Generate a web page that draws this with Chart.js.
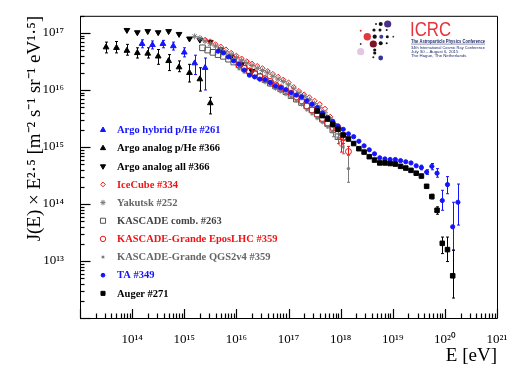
<!DOCTYPE html>
<html>
<head>
<meta charset="utf-8">
<script src="https://cdn.jsdelivr.net/npm/chart.js@4.4.1/dist/chart.umd.min.js"></script>
<style>
  html, body { margin: 0; padding: 0; background: #fff; }
</style>
</head>
<body>
<canvas id="spectrum" width="520" height="370"></canvas>
<script>
// all values are log10 of E [eV] and of J(E)*E^2.5

// ARGO-YBJ hybrid p+He (#261)
const argoHybLogE = [14.19, 14.39, 14.59, 14.79, 15.0, 15.2, 15.4];
const argoHybLogJ = [16.81, 16.79, 16.81, 16.77, 16.66, 16.47, 16.39];
const argoHybLo   = [16.74, 16.72, 16.74, 16.70, 16.58, 16.27, 16.0];
const argoHybHi   = [16.88, 16.86, 16.87, 16.84, 16.74, 16.61, 16.56];

// ARGO-YBJ analog p+He (#366)
const argoPheLogE = [13.5, 13.7, 13.9, 14.1, 14.3, 14.5, 14.7, 14.9, 15.1, 15.3, 15.5];
const argoPheLogJ = [16.75, 16.74, 16.69, 16.65, 16.64, 16.59, 16.51, 16.40, 16.30, 16.19, 15.77];
const argoPheLo   = [16.65, 16.65, 16.61, 16.56, 16.56, 16.45, 16.34, 16.32, 16.14, 15.98, 15.58];
const argoPheHi   = [16.84, 16.85, 16.80, 16.74, 16.74, 16.71, 16.62, 16.51, 16.45, 16.39, 15.87];

// ARGO-YBJ analog all particle (#366)
const argoAllLogE = [13.9, 14.1, 14.3, 14.5, 14.7, 14.9, 15.1, 15.3, 15.5, 15.7, 15.9, 16.1, 16.3];
const argoAllLogJ = [17.05, 17.01, 17.03, 17.01, 17.03, 16.98, 16.90, 16.88, 16.84, 16.71, 16.59, 16.45, 16.33];

// IceCube / IceTop (#334)
const iceLogE = [15.4, 15.5, 15.6, 15.7, 15.8, 15.9, 16.0, 16.1, 16.2, 16.3, 16.4, 16.5, 16.6, 16.7,
                 16.8, 16.9, 17.0, 17.1, 17.2, 17.3, 17.4, 17.5, 17.6, 17.7, 17.8, 17.9, 18.0];
const iceLogJ = [16.88, 16.85, 16.80, 16.76, 16.71, 16.65, 16.60, 16.55, 16.50, 16.46, 16.42, 16.38, 16.33, 16.28,
                 16.23, 16.18, 16.13, 16.05, 15.98, 15.92, 15.87, 15.81, 15.75, 15.67, 15.53, 15.35, 15.06];
const iceBarE  = [17.9, 18.0];
const iceBarLo = [15.29, 14.91];
const iceBarHi = [15.41, 15.14];

// Yakutsk (#252)
const yakLogE = [15.2, 15.3, 15.4, 15.5, 15.6, 15.7, 15.8, 15.9, 16.0, 16.1, 16.2, 16.3, 16.4, 16.5, 16.6,
                 16.7, 16.8, 16.9, 17.0, 17.1, 17.2, 17.3, 17.4, 17.5, 17.6, 17.7, 17.8, 17.9, 18.0];
const yakLogJ = [16.94, 16.91, 16.86, 16.81, 16.77, 16.72, 16.67, 16.62, 16.57, 16.52, 16.47, 16.43, 16.38, 16.34, 16.30,
                 16.24, 16.19, 16.15, 16.09, 16.02, 15.95, 15.89, 15.83, 15.76, 15.69, 15.60, 15.49, 15.35, 15.22];

// KASCADE combined (#263)
const kasLogE = [15.35, 15.45, 15.55, 15.65, 15.75, 15.85, 15.95, 16.05, 16.15, 16.25, 16.35, 16.45, 16.55, 16.65,
                 16.75, 16.85, 16.95, 17.05, 17.15, 17.25, 17.35, 17.45, 17.55, 17.65, 17.75, 17.85, 17.95];
const kasLogJ = [16.74, 16.70, 16.66, 16.62, 16.59, 16.54, 16.49, 16.44, 16.38, 16.33, 16.28, 16.23, 16.18, 16.12,
                 16.07, 16.02, 15.97, 15.90, 15.84, 15.78, 15.72, 15.65, 15.58, 15.49, 15.41, 15.30, 15.18];

// KASCADE-Grande, EPOS-LHC (#359)
const kgEposLogE = [16.05, 16.15, 16.25, 16.35, 16.45, 16.55, 16.65, 16.75, 16.85, 16.95, 17.05,
                    17.15, 17.25, 17.35, 17.45, 17.55, 17.65, 17.75, 17.85, 17.95, 18.05, 18.15];
const kgEposLogJ = [16.44, 16.38, 16.33, 16.29, 16.24, 16.20, 16.15, 16.09, 16.04, 15.99, 15.94,
                    15.88, 15.81, 15.72, 15.65, 15.57, 15.50, 15.42, 15.34, 15.34, 15.16, 14.92];
const kgEposBarE  = [17.95, 18.05, 18.15];
const kgEposBarLo = [15.16, 15.06, 14.86];
const kgEposBarHi = [15.37, 15.25, 15.01];

// KASCADE-Grande, QGSJet-II-04 (#359)
const kgQgsLogE = [16.05, 16.15, 16.25, 16.35, 16.45, 16.55, 16.65, 16.75, 16.85, 16.95, 17.05,
                   17.15, 17.25, 17.35, 17.45, 17.55, 17.65, 17.75, 17.85, 17.95, 18.05, 18.15];
const kgQgsLogJ = [16.37, 16.31, 16.26, 16.22, 16.18, 16.13, 16.08, 16.02, 15.97, 15.92, 15.87,
                   15.81, 15.74, 15.65, 15.58, 15.50, 15.43, 15.35, 15.27, 15.16, 15.00, 14.62];
const kgQgsBarE  = [17.85, 17.95, 18.05, 18.15];
const kgQgsBarLo = [15.18, 15.06, 14.88, 14.38];
const kgQgsBarHi = [15.35, 15.27, 15.13, 14.85];

// Telescope Array (#349)
const taLogE = [15.65, 15.75, 15.85, 15.95, 16.05, 16.15, 16.25, 16.35, 16.45, 16.55, 16.65, 16.75, 16.85, 16.95,
                17.05, 17.15, 17.25, 17.35, 17.45, 17.55, 17.65, 17.75, 17.85, 17.95, 18.05, 18.15, 18.25,
                18.35, 18.45, 18.55, 18.65, 18.75, 18.85, 18.95, 19.05, 19.15, 19.25, 19.35, 19.45, 19.55,
                19.65, 19.75, 19.85, 19.95, 20.05, 20.15, 20.25];
const taLogJ = [16.68, 16.65, 16.58, 16.51, 16.45, 16.35, 16.26, 16.23, 16.19, 16.18, 16.13, 16.07, 16.04, 16.00,
                15.95, 15.91, 15.88, 15.81, 15.75, 15.69, 15.60, 15.52, 15.45, 15.37, 15.31, 15.23, 15.18,
                15.10, 15.02, 14.95, 14.88, 14.81, 14.79, 14.78, 14.78, 14.76, 14.74, 14.72, 14.67, 14.64,
                14.56, 14.66, 14.54, 14.06, 14.34, 13.60, 14.03];
const taBarE  = [19.55, 19.65, 19.75, 19.85, 19.95, 20.05, 20.15, 20.25];
const taBarLo = [14.60, 14.52, 14.60, 14.47, 13.89, 14.18, 13.19, 13.63];
const taBarHi = [14.68, 14.60, 14.71, 14.62, 14.24, 14.48, 14.03, 14.35];

// Pierre Auger Observatory (#271)
const augerLogE = [17.55, 17.65, 17.75, 17.85, 17.95, 18.05, 18.15, 18.25, 18.35, 18.45, 18.55, 18.65, 18.75, 18.85,
                   18.95, 19.05, 19.15, 19.25, 19.35, 19.45, 19.55, 19.65, 19.75, 19.85, 19.95, 20.05, 20.15];
const augerLogJ = [15.63, 15.55, 15.49, 15.40, 15.31, 15.21, 15.14, 15.06, 14.97, 14.91, 14.83, 14.77, 14.72, 14.72,
                   14.71, 14.70, 14.66, 14.63, 14.59, 14.54, 14.49, 14.31, 14.13, 13.89, 13.31, 13.20, 12.74];
const augerBarE  = [19.75, 19.85, 19.95, 20.05, 20.15];
const augerBarLo = [14.09, 13.82, 13.13, 12.99, 12.35];
const augerBarHi = [14.17, 13.95, 13.42, 13.42, 13.19];

// axis decades that get a label
const xTickExp = [14, 15, 16, 17, 18, 19, 20, 21];
const yTickExp = [13, 14, 15, 16, 17];

const BLUE = '#1414ff';
const RED = '#f01414';
const GRAY = '#7a7a7a';
const DARK = '#444444';

const SUP = {'0': '⁰', '1': '¹', '2': '²', '3': '³', '4': '⁴', '5': '⁵', '6': '⁶', '7': '⁷', '8': '⁸', '9': '⁹', '-': '⁻'};
function powLabel(v) {
  const p = Math.round(Math.log10(v));
  return '10' + String(p).split('').map(c => SUP[c]).join('');
}

function toPoints(logE, logJ) {
  return logE.map((e, i) => ({x: Math.pow(10, e), y: Math.pow(10, logJ[i])}));
}
function toBars(logE, lo, hi) {
  return logE.map((e, i) => ({x: Math.pow(10, e), lo: Math.pow(10, lo[i]), hi: Math.pow(10, hi[i])}));
}

const series = [
  {label: 'Argo hybrid p/He #261', pts: toPoints(argoHybLogE, argoHybLogJ), bars: toBars(argoHybLogE, argoHybLo, argoHybHi),
   style: 'triangle', radius: 3.3, color: BLUE, text: BLUE},
  {label: 'Argo analog p/He #366', pts: toPoints(argoPheLogE, argoPheLogJ), bars: toBars(argoPheLogE, argoPheLo, argoPheHi),
   style: 'triangle', radius: 3.3, color: '#000', text: '#000'},
  {label: 'Argo analog all #366', pts: toPoints(argoAllLogE, argoAllLogJ),
   style: 'triangle', rotation: 180, radius: 3.3, color: '#000', text: '#000'},
  {label: 'IceCube #334', pts: toPoints(iceLogE, iceLogJ), bars: toBars(iceBarE, iceBarLo, iceBarHi),
   style: 'rectRot', radius: 2.6, color: RED, open: true, text: RED},
  {label: 'Yakutsk #252', pts: toPoints(yakLogE, yakLogJ),
   style: 'star', radius: 3, color: GRAY, text: '#666'},
  {label: 'KASCADE comb. #263', pts: toPoints(kasLogE, kasLogJ),
   style: 'rect', radius: 4, color: '#555', open: true, text: DARK},
  {label: 'KASCADE-Grande EposLHC #359', pts: toPoints(kgEposLogE, kgEposLogJ), bars: toBars(kgEposBarE, kgEposBarLo, kgEposBarHi),
   style: 'circle', radius: 3, color: RED, open: true, text: RED},
  {label: 'KASCADE-Grande QGS2v4 #359', pts: toPoints(kgQgsLogE, kgQgsLogJ), bars: toBars(kgQgsBarE, kgQgsBarLo, kgQgsBarHi),
   style: 'star', radius: 1.8, color: GRAY, text: '#666'},
  {label: 'TA #349', pts: toPoints(taLogE, taLogJ), bars: toBars(taBarE, taBarLo, taBarHi),
   style: 'circle', radius: 2.1, color: BLUE, text: BLUE},
  {label: 'Auger #271', pts: toPoints(augerLogE, augerLogJ), bars: toBars(augerBarE, augerBarLo, augerBarHi),
   style: 'rect', radius: 3.2, color: '#000', text: '#000'}
];

const datasets = series.map((s, i) => ({
  label: s.label,
  data: s.pts,
  bars: s.bars || null,
  textColor: s.text,
  pointStyle: s.style,
  pointRadius: s.radius,
  pointRotation: s.rotation || 0,
  pointBackgroundColor: s.open ? 'rgba(0,0,0,0)' : s.color,
  pointBorderColor: s.color,
  pointBorderWidth: 1,
  showLine: false,
  order: series.length - i
}));

// vertical error bars with small caps, drawn under the markers
const errorBars = {
  id: 'errorBars',
  beforeDatasetsDraw(chart) {
    const {ctx, scales: {x, y}} = chart;
    ctx.save();
    ctx.lineWidth = 1;
    chart.data.datasets.forEach(ds => {
      if (!ds.bars) return;
      ctx.strokeStyle = ds.pointBorderColor;
      ctx.beginPath();
      ds.bars.forEach(b => {
        const px = Math.round(x.getPixelForValue(b.x)) + 0.5;
        const y1 = y.getPixelForValue(b.lo);
        const y2 = y.getPixelForValue(b.hi);
        ctx.moveTo(px, y1); ctx.lineTo(px, y2);
        ctx.moveTo(px - 1.5, y1); ctx.lineTo(px + 1.5, y1);
        ctx.moveTo(px - 1.5, y2); ctx.lineTo(px + 1.5, y2);
      });
      ctx.stroke();
    });
    ctx.restore();
  }
};

// ROOT style frame with ticks pointing inwards
const rootFrame = {
  id: 'rootFrame',
  afterDraw(chart) {
    const ctx = chart.ctx;
    const a = chart.chartArea;
    const xs = chart.scales.x;
    const ys = chart.scales.y;
    ctx.save();
    ctx.strokeStyle = '#000';
    ctx.lineWidth = 1;
    ctx.beginPath();
    ctx.rect(a.left + 0.5, a.top + 0.5, a.right - a.left, a.bottom - a.top);
    ctx.stroke();
    ctx.lineWidth = 1.2;
    for (let p = 13; p <= 21; p++) {
      for (let m = 1; m <= 9; m++) {
        const px = Math.round(xs.getPixelForValue(m * Math.pow(10, p))) + 0.5;
        if (px > a.right + 1) continue;
        ctx.beginPath();
        ctx.moveTo(px, a.bottom);
        ctx.lineTo(px, a.bottom - (m === 1 ? 9 : 4.5));
        ctx.stroke();
      }
    }
    for (let p = 12; p <= 17; p++) {
      for (let m = 1; m <= 9; m++) {
        const py = Math.round(ys.getPixelForValue(m * Math.pow(10, p))) + 0.5;
        if (py < a.top) continue;
        ctx.beginPath();
        ctx.moveTo(a.left, py);
        ctx.lineTo(a.left + (m === 1 ? 10.5 : 4.5), py);
        ctx.stroke();
      }
    }
    ctx.restore();
  }
};

// legend inside the frame, one row per dataset
const insideLegend = {
  id: 'insideLegend',
  afterDraw(chart) {
    const ctx = chart.ctx;
    ctx.save();
    ctx.font = 'bold 10.5px "Liberation Serif", serif';
    ctx.textBaseline = 'middle';
    chart.data.datasets.forEach((ds, i) => {
      const yy = 130 + i * 18.15;
      ctx.fillStyle = ds.pointBackgroundColor;
      ctx.strokeStyle = ds.pointBorderColor;
      ctx.lineWidth = 1;
      Chart.helpers.drawPoint(ctx, {
        pointStyle: ds.pointStyle, rotation: ds.pointRotation,
        radius: ds.pointRadius * 0.9, borderWidth: 1
      }, 103, yy);
      ctx.fillStyle = ds.textColor;
      ctx.fillText(ds.label, 117, yy + 0.5);
    });
    ctx.restore();
  }
};

// conference logo, top right
const logo = {
  id: 'logo',
  afterDraw(chart) {
    const ctx = chart.ctx;
    const dots = [
      [376, 24, 1, '#222'], [380.7, 24, 2, '#111'], [387.7, 24, 3.6, '#4b2f86'],
      [360.7, 30.7, 1, '#d03030'], [374, 30, 1.6, '#111'], [380, 30, 1.5, '#111'], [386.7, 30, 1, '#111'],
      [367.3, 36.7, 3.7, '#e2383f'], [374.7, 36.7, 2.1, '#111'], [381.3, 36.7, 2, '#3b3b9e'],
      [387.3, 36.7, 1.5, '#111'], [393.3, 36.7, 0.9, '#333'],
      [360.7, 44, 0.9, '#333'], [373.3, 44, 3.6, '#7d1425'], [380.7, 43.3, 2, '#111'], [386.7, 43.3, 1, '#111'],
      [360.7, 51.7, 3.6, '#e3c6e3'], [374.7, 50, 1.6, '#111'], [374.7, 53, 1.6, '#111'],
      [373.3, 57.3, 1, '#222'], [380.7, 58, 2.4, '#34349c']
    ];
    ctx.save();
    dots.forEach(([cx, cy, r, c]) => {
      ctx.beginPath();
      ctx.arc(cx, cy, r, 0, Math.PI * 2);
      ctx.fillStyle = c;
      ctx.fill();
    });
    ctx.save();
    ctx.translate(410, 36);
    ctx.scale(0.8, 1);
    ctx.fillStyle = '#e8333c';
    ctx.font = '21px "Liberation Sans", sans-serif';
    ctx.textBaseline = 'alphabetic';
    ctx.fillText('ICRC', 0, 0);
    ctx.restore();
    ctx.fillStyle = '#1e2a6a';
    ctx.font = 'bold 4.5px "Liberation Sans", sans-serif';
    ctx.fillText('The Astroparticle Physics Conference', 411, 42.5, 74);
    ctx.fillRect(411, 43.8, 74, 0.5);
    ctx.font = '4.3px "Liberation Sans", sans-serif';
    ctx.fillText('34th International Cosmic Ray Conference', 411, 48.5, 74);
    ctx.fillText('July 30 – August 6, 2015', 411, 52.8);
    ctx.fillText('The Hague, The Netherlands', 411, 57.3);
    ctx.restore();
  }
};

const serif = '"Liberation Serif", "Times New Roman", serif';

new Chart(document.getElementById('spectrum').getContext('2d'), {
  type: 'scatter',
  data: {datasets: datasets},
  plugins: [errorBars, insideLegend, logo, rootFrame],
  options: {
    responsive: false,
    animation: false,
    layout: {padding: {left: 0, top: 15, right: 23, bottom: 0}},
    plugins: {legend: {display: false}, tooltip: {enabled: false}},
    scales: {
      x: {
        type: 'logarithmic',
        min: 1e13,
        max: 1e21,
        afterBuildTicks: s => { s.ticks = xTickExp.map(p => ({value: Math.pow(10, p)})); },
        afterFit: s => { s.height = 52; },
        grid: {display: false},
        border: {display: false},
        ticks: {autoSkip: false, maxRotation: 0, padding: 6, color: '#000',
                font: {family: serif, size: 13}, callback: v => powLabel(v)},
        title: {display: true, text: 'E [eV]', align: 'end', color: '#000',
                font: {family: serif, size: 19}, padding: {top: 0, bottom: 3}}
      },
      y: {
        type: 'logarithmic',
        min: 1e12,
        max: 2e17,
        afterBuildTicks: s => { s.ticks = yTickExp.map(p => ({value: Math.pow(10, p)})); },
        afterFit: s => { s.width = 80; },
        grid: {display: false},
        border: {display: false},
        ticks: {autoSkip: false, padding: 8, color: '#000',
                font: {family: serif, size: 13}, callback: v => powLabel(v)},
        title: {display: true, text: 'J(E) × E²·⁵ [m⁻² s⁻¹ sr⁻¹ eV¹·⁵]', align: 'end', color: '#000',
                font: {family: serif, size: 19}, padding: {top: 24, bottom: 0}}
      }
    }
  }
});
</script>
</body>
</html>
